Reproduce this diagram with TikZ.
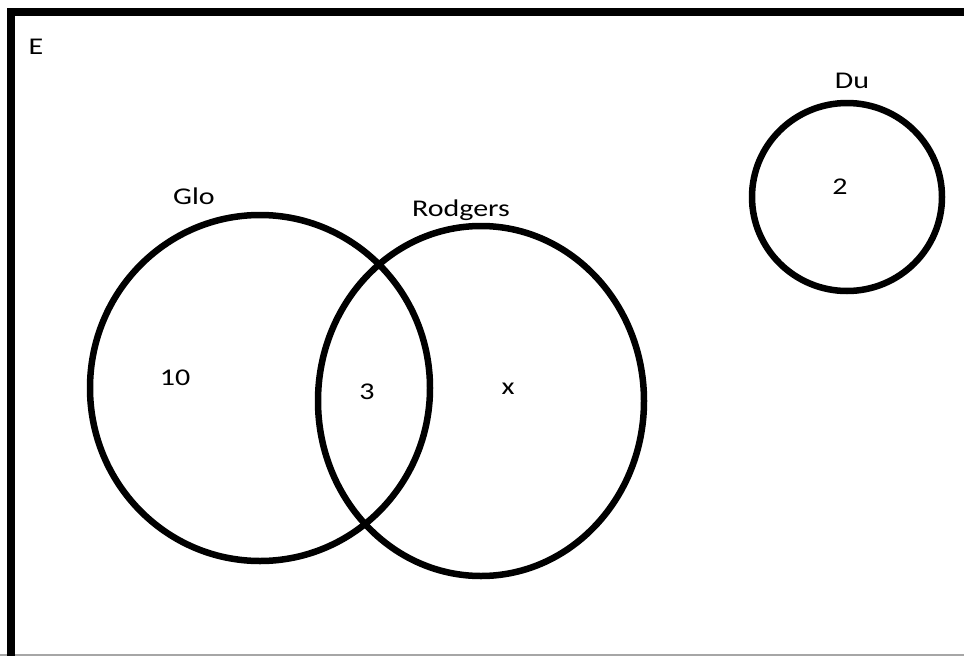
\documentclass[tikz,border=0pt]{standalone}
\usepackage{fontspec}
\setmainfont[FakeStretch=1.25]{Carlito}
\usetikzlibrary{shapes.geometric}
\tikzset{
  setring/.style={draw=black, line width=6.5pt, ellipse, inner sep=0pt},
  lbl/.style={font=\fontsize{24}{26}\selectfont, inner sep=0pt, text=black}
}
\begin{document}
\begin{tikzpicture}[x=1pt, y=-1pt]
  \useasboundingbox[fill=white] (0,0) rectangle (964,656);
  % universe frame: thick left and top edges, thin bottom edge
  \draw[gray!70, line width=1.5pt] (0,655) -- (964,655);
  \draw[black, line width=7.5pt] (11,656) -- (11,12) -- (964,12);
  \node[lbl] (E) at (36,47) {E};
  % sets
  \node[setring, minimum width=340pt, minimum height=346pt] (glo) at (260,388) {};
  \node[setring, minimum width=326pt, minimum height=350pt] (rod) at (481,401) {};
  \node[setring, minimum width=190pt, minimum height=188pt] (du) at (847,197) {};
  % set names
  \node[lbl] (gloname) at (194,196) {Glo};
  \node[lbl] (rodname) at (461,210) {Rodgers};
  \node[lbl] (duname) at (852,81) {Du};
  % region counts
  \node[lbl] (n10) at (175,378) {10};
  \node[lbl] (n3) at (367,392) {3};
  \node[lbl] (nx) at (508,389) {x};
  \node[lbl] (n2) at (840,187) {2};
\end{tikzpicture}
\end{document}
